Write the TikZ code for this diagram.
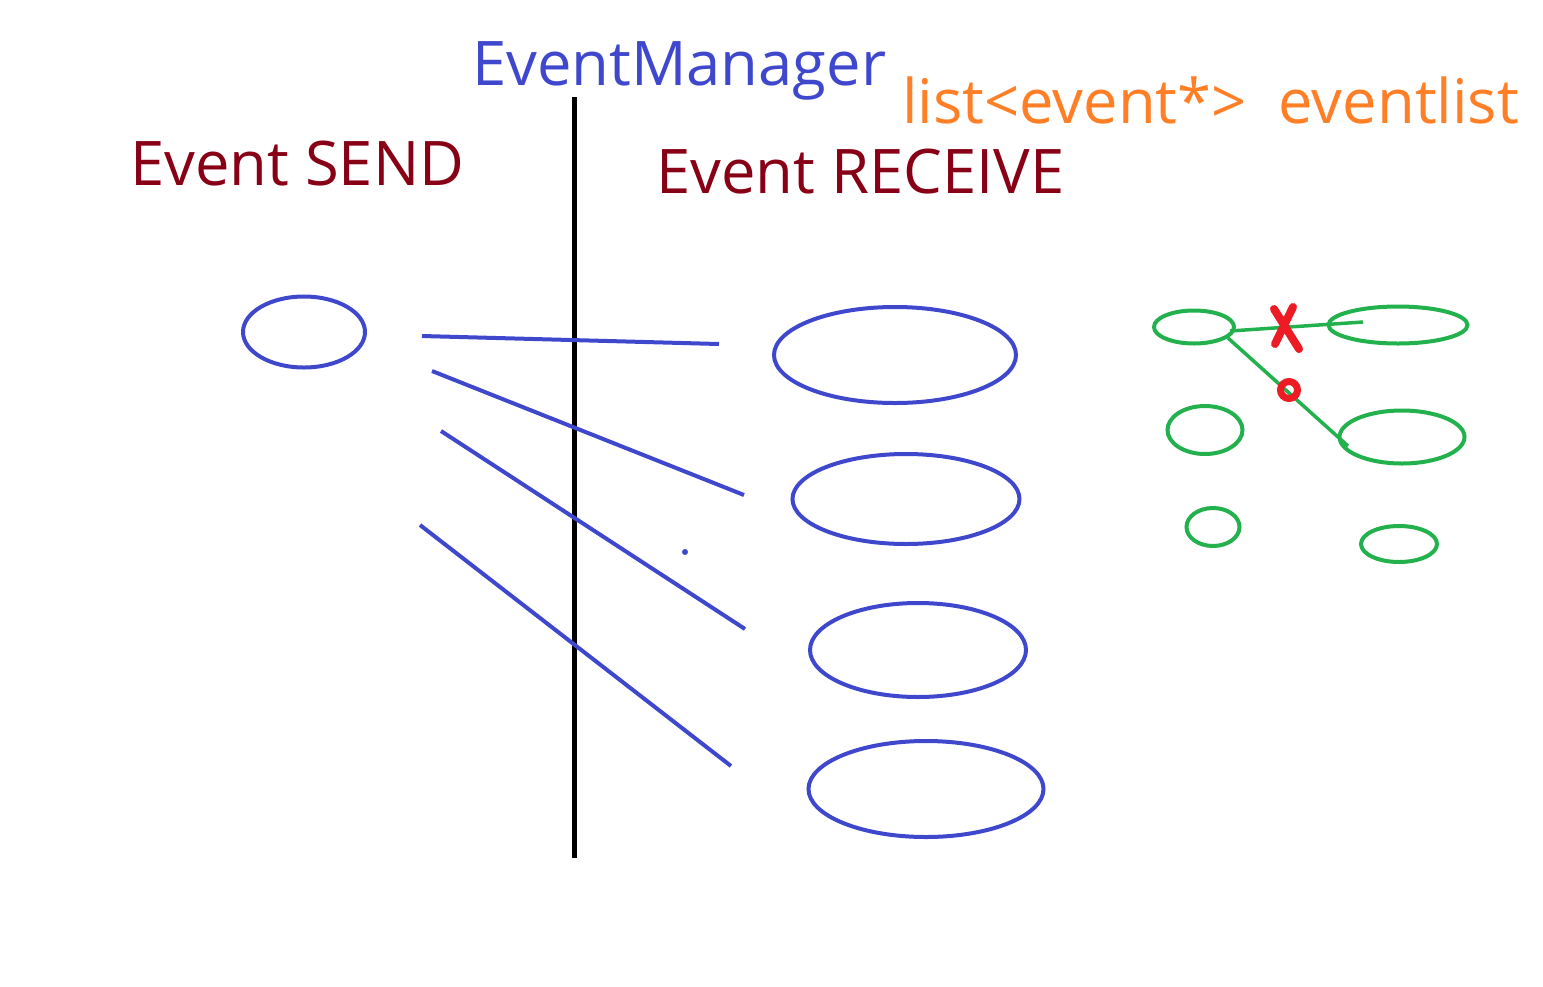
\documentclass[tikz,border=0pt]{standalone}
\usepackage{fontspec}
\setmainfont{Open Sans}
\usepackage{tikz}
\usetikzlibrary{shapes.geometric}
\definecolor{pblue}{RGB}{63,72,204}
\definecolor{pdred}{RGB}{136,0,21}
\definecolor{porange}{RGB}{255,127,39}
\definecolor{pgreen}{RGB}{34,177,76}
\definecolor{pred}{RGB}{237,28,36}

\begin{document}
\begin{tikzpicture}[x=1pt,y=-1pt,
		ev/.style={ellipse,draw=pblue,line width=4pt,inner sep=0pt},
		gev/.style={ellipse,draw=pgreen,line width=4pt,inner sep=0pt},
		wire/.style={pblue,line width=4pt},
		gwire/.style={pgreen,line width=3.5pt},
		mark red/.style={pred,line width=8pt,line cap=round},
		lbl/.style={anchor=base west,inner sep=0pt,font=\fontsize{61.5}{62}\selectfont}]
		\useasboundingbox (0,0) rectangle (1543,986);
		\node[lbl,text=pblue] (mgr) at (472,85) {EventManager}; %title
		\node[lbl,text=pdred] (send) at (130,185) {Event SEND};
		\node[lbl,text=pdred] (recv) at (656,193) {Event RECEIVE};
		\node[lbl,text=porange] (list) at (902,123) {list<event*>\ \ eventlist};
		\coordinate (top) at (574,97);
		\coordinate (bot) at (574,858);
		\draw[line width=5pt] (top) -- (bot); %manager
		\node[ev,minimum width=122,minimum height=71] (s) at (304,332) {}; %sender
		\node[ev,minimum width=242,minimum height=96] (r1) at (895,355) {};
		\node[ev,minimum width=227,minimum height=90] (r2) at (906,499) {};
		\node[ev,minimum width=216,minimum height=94] (r3) at (918,650) {};
		\node[ev,minimum width=235,minimum height=96] (r4) at (926,789) {};
		\foreach \i/\a/\b in {1/{422,336}/{719,344},2/{432,371}/{744,495},3/{441,431}/{745,629},4/{420,525}/{731,766}}{
			\coordinate (a\i) at (\a);
			\coordinate (b\i) at (\b);
			\draw[wire] (a\i) -- (b\i);
		}
		\fill[pblue] (685,552) circle (3); %dot
		% eventlist
		\node[gev,minimum width=80,minimum height=33] (g1) at (1194,327) {};
		\node[gev,minimum width=139,minimum height=37] (g2) at (1398,325) {};
		\node[gev,minimum width=75,minimum height=48] (g3) at (1205,430) {};
		\node[gev,minimum width=125,minimum height=53] (g4) at (1402,437) {};
		\node[gev,minimum width=53,minimum height=38] (g5) at (1213,527) {};
		\node[gev,minimum width=76,minimum height=36] (g6) at (1399,544) {};
		\coordinate (ga) at (1230,331);
		\coordinate (gb) at (1363,322);
		\coordinate (gc) at (1228,338);
		\coordinate (gd) at (1348,446);
		\draw[gwire] (ga) -- (gb);
		\draw[gwire] (gc) -- (gd);
		\draw[mark red] (1293,307) -- (1275,344) (1274,309) -- (1299,349); %X
		\draw[pred,line width=7pt] (1289,390) circle (8.5); %O
\end{tikzpicture}
\end{document}
